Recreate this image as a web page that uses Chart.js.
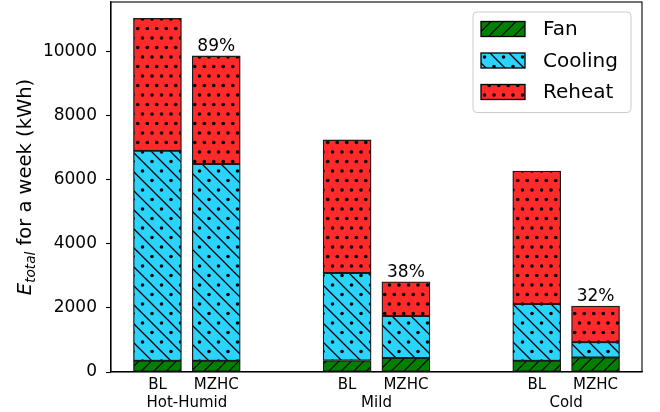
<!DOCTYPE html>
<html><head><meta charset="utf-8">
<script src="https://cdn.jsdelivr.net/npm/chart.js@4/dist/chart.umd.min.js"></script>
<style>html,body{margin:0;padding:0;background:#fff;}canvas{display:block;}</style>
</head><body>
<canvas id="c" width="660" height="412"></canvas>
<script>
// ---- data ----
const groups = ['Hot-Humid', 'Mild', 'Cold'];
const cases = ['BL', 'MZHC'];
const seriesNames = ['Fan', 'Cooling', 'Reheat'];
const fan = [350, 350, 360, 440, 350, 455];
const cooling = [6560, 6150, 2735, 1310, 1775, 475];
const reheat = [4140, 3375, 4155, 1065, 4155, 1130];
const savings = ['89%', '38%', '32%'];
const yTicks = [0, 2000, 4000, 6000, 8000, 10000];
const yMax = 11560;

// ---- layout helpers ----
const caseOffset = 0.155;
const xs = [];
groups.forEach((g, gi) => cases.forEach((c, ci) => xs.push(gi + (ci === 0 ? -caseOffset : caseOffset))));
const tickPos = [], tickLabels = [];
groups.forEach((g, gi) => {
  tickPos.push(gi - caseOffset); tickLabels.push(cases[0]);
  tickPos.push(gi); tickLabels.push(['', g]);
  tickPos.push(gi + caseOffset); tickLabels.push(cases[1]);
});

const canvas = document.getElementById('c');
const ctx = canvas.getContext('2d');
const FONT = 'DejaVu Sans';

function makePattern(w, h, bg, fn) {
  const c = document.createElement('canvas'); c.width = w; c.height = h;
  const g = c.getContext('2d');
  g.fillStyle = bg; g.fillRect(0, 0, w, h);
  g.strokeStyle = '#000'; g.fillStyle = '#000';
  fn(g, w, h);
  return ctx.createPattern(c, 'repeat');
}
function dots(g, pts, T, r) {
  pts.forEach(([x, y]) => {
    for (let dx = -T; dx <= T; dx += T) for (let dy = -T; dy <= T; dy += T) {
      g.beginPath(); g.arc(x + dx, y + dy, r, 0, Math.PI * 2); g.fill();
    }
  });
}
const fanPat = makePattern(25, 25, '#008000', (g) => {
  g.lineWidth = 1.2; g.beginPath();
  for (let k = -2; k <= 6; k++) { const c = k * 12.5; g.moveTo(c + 5, -5); g.lineTo(c - 30, 30); }
  g.stroke();
});
const coolPat = makePattern(19, 19, '#2ad4ff', (g) => {
  g.lineWidth = 1.3; g.beginPath();
  for (let k = -2; k <= 2; k++) { const c = k * 19; g.moveTo(c - 5, -5); g.lineTo(c + 25, 25); }
  g.stroke();
  dots(g, [[9.5, 0], [0, 9.5]], 19, 1.8);
});
const reheatPat = makePattern(19, 19, '#ff2a2a', (g) => {
  dots(g, [[0, 0], [9.5, 0], [4.75, 9.5], [14.25, 9.5]], 19, 1.8);
});
const patterns = [fanPat, coolPat, reheatPat];
const seriesData = [fan, cooling, reheat];

const overlay = {
  id: 'overlay',
  afterDatasetsDraw(chart) {
    const c = chart.ctx, a = chart.chartArea;
    c.save();
    // frame
    c.strokeStyle = '#000'; c.lineWidth = 1.1;
    c.strokeRect(a.left, a.top, a.right - a.left, a.bottom - a.top);
    // percentage labels above MZHC bars
    const meta = chart.getDatasetMeta(2);
    c.fillStyle = '#000'; c.font = '17px "' + FONT + '"';
    c.textAlign = 'center'; c.textBaseline = 'alphabetic';
    savings.forEach((s, gi) => {
      const el = meta.data[gi * 2 + 1];
      c.fillText(s, el.x, el.y - 5);
    });
    // y axis title with subscript
    c.translate(31, (a.top + a.bottom) / 2);
    c.rotate(-Math.PI / 2);
    const parts = [
      { t: 'E', f: 'italic 19.5px "' + FONT + '"', dy: 0 },
      { t: 'total', f: 'italic 13.6px "' + FONT + '"', dy: 4 },
      { t: ' for a week (kWh)', f: '19.5px "' + FONT + '"', dy: 0 }
    ];
    let total = 0;
    parts.forEach(p => { c.font = p.f; p.w = c.measureText(p.t).width; total += p.w; });
    let x = -total / 2;
    c.textAlign = 'left';
    parts.forEach(p => { c.font = p.f; c.fillText(p.t, x, p.dy); x += p.w; });
    c.restore();

    // legend
    c.save();
    const lx = 473, ly = 12, lw = 158, lh = 100.5, r = 4;
    c.beginPath();
    c.moveTo(lx + r, ly); c.arcTo(lx + lw, ly, lx + lw, ly + lh, r);
    c.arcTo(lx + lw, ly + lh, lx, ly + lh, r); c.arcTo(lx, ly + lh, lx, ly, r);
    c.arcTo(lx, ly, lx + lw, ly, r); c.closePath();
    c.fillStyle = 'rgba(255,255,255,0.8)'; c.fill();
    c.strokeStyle = '#cccccc'; c.lineWidth = 1; c.stroke();
    chart.data.datasets.forEach((ds, i) => {
      const py = 21.5 + i * 31.5;
      c.fillStyle = ds.backgroundColor; c.fillRect(481, py, 44, 15);
      c.strokeStyle = '#000'; c.lineWidth = 1.3; c.strokeRect(481, py, 44, 15);
      c.fillStyle = '#000'; c.font = '20px "' + FONT + '"';
      c.textAlign = 'left'; c.textBaseline = 'middle';
      c.fillText(ds.label, 543, py + 8.5);
    });
    c.restore();
  }
};

new Chart(ctx, {
  type: 'bar',
  data: {
    datasets: seriesNames.map((name, si) => ({
      label: name,
      data: xs.map((x, i) => ({ x: x, y: seriesData[si][i] })),
      backgroundColor: patterns[si],
      borderColor: '#1a1a1a',
      borderWidth: 1.3,
      borderSkipped: false,
      barThickness: 48
    }))
  },
  options: {
    responsive: false, animation: false, events: [],
    layout: { padding: { left: 0, right: 18, top: 2, bottom: 0 } },
    plugins: { legend: { display: false }, tooltip: { enabled: false } },
    scales: {
      x: {
        type: 'linear', stacked: true, min: -0.4, max: 2.4, offset: false,
        afterBuildTicks: s => { s.ticks = tickPos.map(v => ({ value: v })); },
        afterFit: s => { s.height = 40; s.paddingLeft = 0; s.paddingRight = 0; },
        ticks: {
          autoSkip: false, maxRotation: 0, minRotation: 0, padding: 4, color: '#000',
          font: { family: FONT, size: 15, lineHeight: 1.2 },
          callback: (v, i) => tickLabels[i]
        },
        grid: { display: false, drawTicks: false },
        border: { display: true, color: '#000', width: 1.1 }
      },
      y: {
        stacked: true, min: 0, max: yMax,
        afterBuildTicks: s => { s.ticks = yTicks.map(v => ({ value: v })); },
        afterFit: s => { s.width = 111; s.paddingTop = 0; s.paddingBottom = 0; },
        ticks: { padding: 9, color: '#000', font: { family: FONT, size: 17 }, callback: v => String(v) },
        grid: { drawOnChartArea: false, drawTicks: true, tickLength: 5, tickColor: '#000', tickWidth: 1.1 },
        border: { display: true, color: '#000', width: 1.1 }
      }
    }
  },
  plugins: [overlay]
});
</script>
</body></html>
